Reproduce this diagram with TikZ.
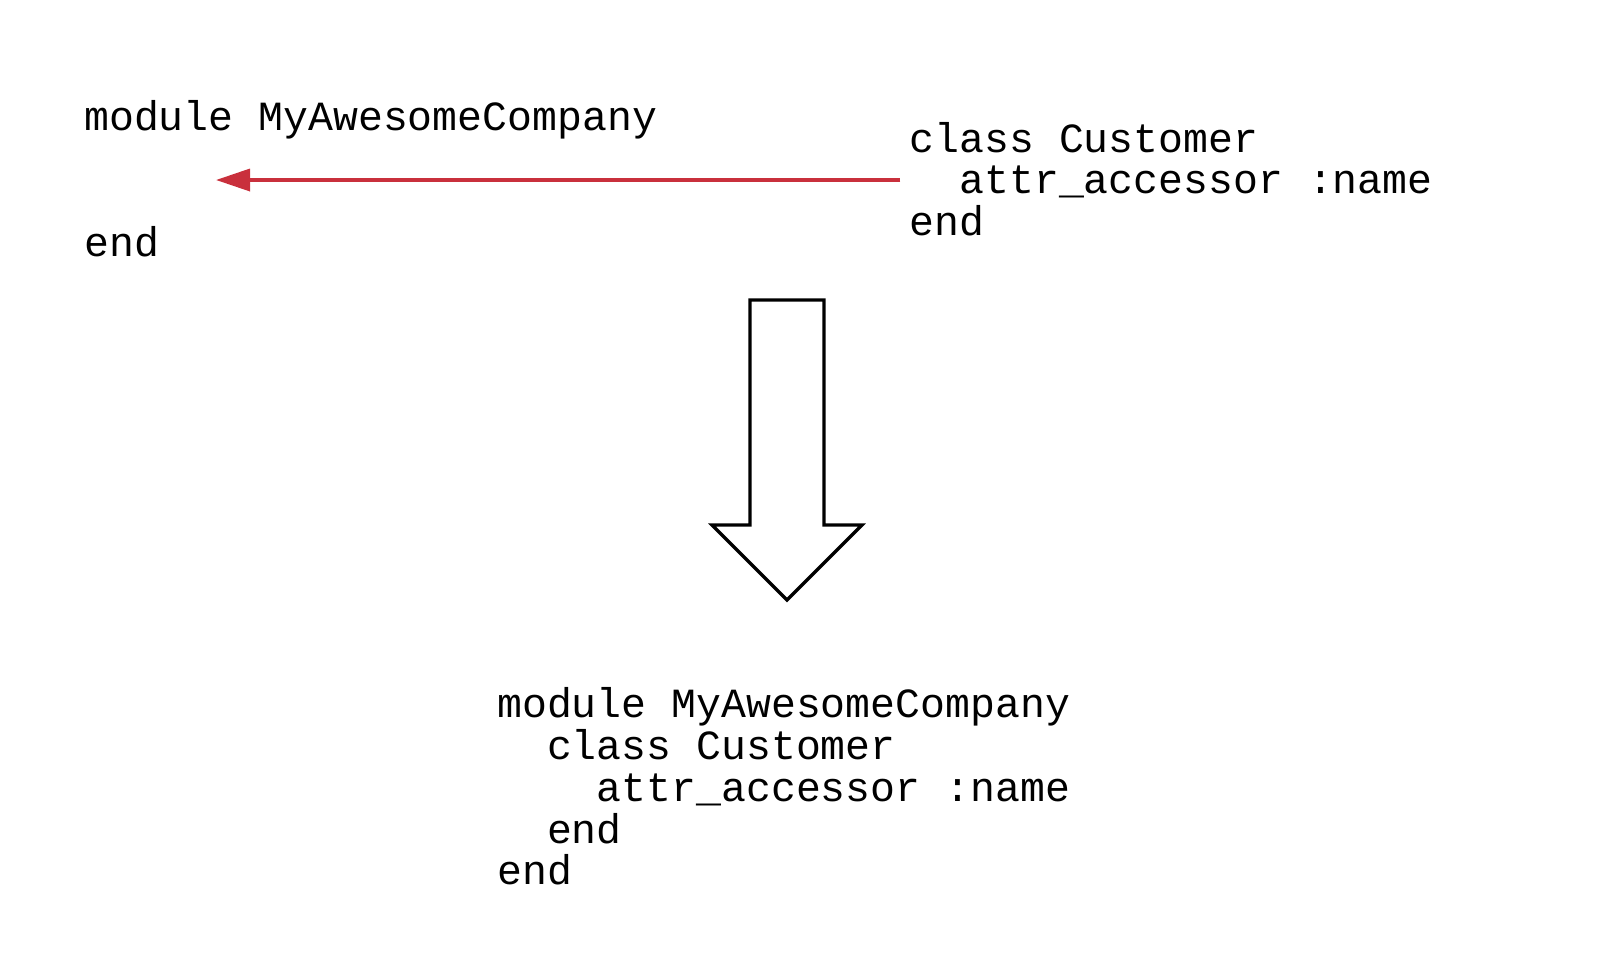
\documentclass[tikz,border=0pt]{standalone}
\usepackage{fontspec}
\setmonofont{Liberation Mono}
\usepackage{xcolor}
\usetikzlibrary{arrows.meta}
\usetikzlibrary{positioning}

\definecolor{rubyred}{RGB}{201,48,60}
\newcommand{\ind}{\hphantom{xx}}

\begin{document}
\begin{tikzpicture}[
    x=1pt, y=-1pt,
    code/.style={inner sep=0pt, align=left, anchor=base west,
      font=\ttfamily\fontsize{41.5}{41.7}\selectfont},
    movearrow/.style={draw=rubyred, line width=3.5pt,
      -{Triangle[length=34pt,width=22pt]}},
    bigarrow/.style={draw=black, line width=3.3pt, fill=white, line join=miter}
  ]
  \useasboundingbox (0,0) rectangle (1613,962);

  % Code blocks (anchored at the baseline of the last line)
  \node[code] (module) at (84,256) {module MyAwesomeCompany\\[83.4pt]end};
  \node[code, inner xsep=9pt] (class) at (900.4,235.6)
    {class Customer\\\ind attr\_accessor :name\\end};
  \node[code] (result) at (497,884.7)
    {module MyAwesomeCompany\\\ind class Customer\\\ind\ind attr\_accessor :name\\\ind end\\end};

  % Red arrow: class goes into the module
  \coordinate (slot) at (216,180);
  \draw[movearrow] (class.west |- slot) -- (slot);

  % Big down arrow
  \draw[bigarrow] (750,300) -- (824,300) -- (824,525) -- (862,525)
    -- (787,600) -- (712,525) -- (750,525) -- cycle;

\end{tikzpicture}
\end{document}
